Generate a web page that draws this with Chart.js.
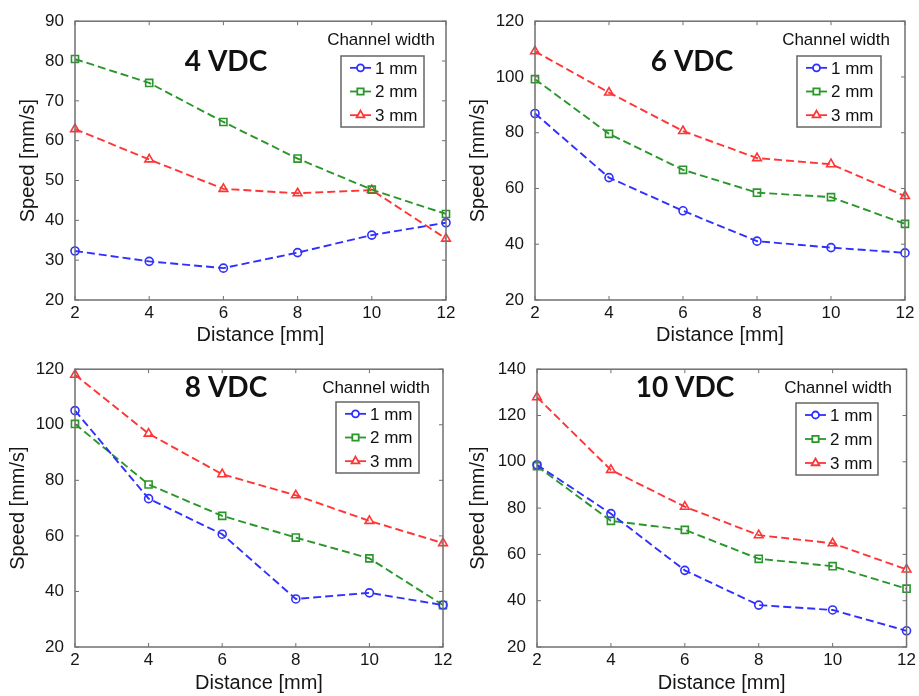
<!DOCTYPE html>
<html>
<head>
<meta charset="utf-8">
<script src="https://cdn.jsdelivr.net/npm/chart.js@4.4.1/dist/chart.umd.min.js"></script>
<style>
  html, body { margin: 0; padding: 0; background: #fff; }
  #page { position: relative; width: 919px; height: 696px; overflow: hidden; }
  .panel { position: absolute; }
</style>
</head>
<body>
<div id="page"></div>
<script>
// distance from electrode, mm
const distances = [2, 4, 6, 8, 10, 12];
const widthLabels = ['1 mm', '2 mm', '3 mm'];
const voltageTitles = ['4 VDC', '6 VDC', '8 VDC', '10 VDC'];

// speed [mm/s] per channel width, one set per voltage
const speed4V_1mm = [32.3, 29.7, 28.0, 31.9, 36.3, 39.4];
const speed4V_2mm = [80.5, 74.5, 64.7, 55.5, 47.7, 41.6];
const speed4V_3mm = [62.9, 55.3, 47.9, 46.8, 47.6, 35.4];

const speed6V_1mm = [86.9, 63.9, 52.0, 41.1, 38.8, 36.9];
const speed6V_2mm = [99.2, 79.6, 66.7, 58.5, 56.9, 47.3];
const speed6V_3mm = [109.2, 94.4, 80.6, 70.9, 68.7, 57.3];

const speed8V_1mm = [105.1, 73.4, 60.6, 37.3, 39.5, 35.1];
const speed8V_2mm = [100.3, 78.5, 67.2, 59.4, 51.9, 35.1];
const speed8V_3mm = [118.0, 96.8, 82.2, 74.6, 65.4, 57.4];

const speed10V_1mm = [98.7, 77.6, 53.1, 38.1, 36.0, 27.0];
const speed10V_2mm = [98.1, 74.5, 70.6, 58.1, 54.9, 45.2];
const speed10V_3mm = [127.9, 96.5, 80.6, 68.3, 64.8, 53.5];

// y axis range and step per voltage
const yAxis4V = [20, 90, 10];
const yAxis6V = [20, 120, 20];
const yAxis8V = [20, 120, 20];
const yAxis10V = [20, 140, 20];

const seriesColors = ['#2f2fff', '#2a962a', '#ff3535'];
const seriesPoints = ['circle', 'rect', 'triangle'];
const seriesRadius = [4, 5, 5];

const FONT = '"Liberation Sans", Arial, Helvetica, sans-serif';
const TITLE_FONT = 'Lato, "Liberation Sans", sans-serif';
const INK = '#161616';

// frame, inward tick marks, title and legend box (matlab-ish look)
const panelDecor = {
  id: 'panelDecor',
  afterDraw(chart, args, opts) {
    const ctx = chart.ctx;
    const a = chart.chartArea;
    const xs = chart.scales.x, ys = chart.scales.y;
    ctx.save();
    ctx.strokeStyle = '#707070';
    ctx.lineWidth = 1.5;
    ctx.setLineDash([]);
    ctx.strokeRect(a.left, a.top, a.right - a.left, a.bottom - a.top);

    ctx.lineWidth = 1;
    ctx.beginPath();
    xs.ticks.forEach(t => {
      const px = xs.getPixelForValue(t.value);
      ctx.moveTo(px, a.bottom); ctx.lineTo(px, a.bottom - 4);
      ctx.moveTo(px, a.top); ctx.lineTo(px, a.top + 4);
    });
    ys.ticks.forEach(t => {
      const py = ys.getPixelForValue(t.value);
      ctx.moveTo(a.left, py); ctx.lineTo(a.left + 4, py);
      ctx.moveTo(a.right, py); ctx.lineTo(a.right - 4, py);
    });
    ctx.stroke();

    // voltage title
    ctx.fillStyle = '#111';
    ctx.textAlign = 'center';
    ctx.textBaseline = 'alphabetic';
    ctx.font = 'bold 28px ' + TITLE_FONT;
    ctx.fillText(opts.title, opts.titleX, opts.titleY);

    ctx.font = '17px ' + FONT;
    ctx.fillText('Channel width', opts.headX, opts.headY);

    // legend box
    const [bx1, by1, bx2, by2] = opts.box;
    ctx.fillStyle = '#fff';
    ctx.fillRect(bx1, by1, bx2 - bx1, by2 - by1);
    ctx.strokeStyle = '#666';
    ctx.lineWidth = 1.5;
    ctx.strokeRect(bx1, by1, bx2 - bx1, by2 - by1);

    const rowGap = (by2 - by1) / 3;
    chart.data.datasets.forEach((ds, i) => {
      const cy = by1 + rowGap * (i + 0.5);
      ctx.strokeStyle = ds.borderColor;
      ctx.lineWidth = 1.8;
      ctx.beginPath();
      ctx.moveTo(bx1 + 9, cy); ctx.lineTo(bx1 + 30, cy);
      ctx.stroke();
      // hollow marker: white inside so the line is hidden behind it
      ctx.fillStyle = '#fff';
      Chart.helpers.drawPoint(ctx, {
        pointStyle: ds.pointStyle, radius: ds.pointRadius - 0.5,
        borderWidth: 1.5, rotation: 0
      }, bx1 + 19.5, cy);
      ctx.fillStyle = '#111';
      ctx.textAlign = 'left';
      ctx.textBaseline = 'middle';
      ctx.font = '17px ' + FONT;
      ctx.fillText(ds.label, bx1 + 34, cy + 1);
    });
    ctx.restore();
  }
};

function makePanel(cfg) {
  const wrap = document.createElement('div');
  wrap.className = 'panel';
  wrap.style.left = cfg.left + 'px';
  wrap.style.top = cfg.top + 'px';
  const canvas = document.createElement('canvas');
  canvas.width = cfg.w;
  canvas.height = cfg.h;
  wrap.append(canvas);
  document.getElementById('page').append(wrap);

  const datasets = cfg.series.map((vals, i) => ({
    label: widthLabels[i],
    data: vals.map((v, k) => ({ x: distances[k], y: v })),
    borderColor: seriesColors[i],
    backgroundColor: 'rgba(0,0,0,0)',
    borderWidth: 1.9,
    borderDash: [8, 4],
    pointStyle: seriesPoints[i],
    pointRadius: seriesRadius[i],
    pointBorderWidth: 1.6,
    pointBackgroundColor: 'rgba(0,0,0,0)',
    pointBorderColor: seriesColors[i],
    tension: 0,
    clip: false
  }));

  new Chart(canvas, {
    type: 'line',
    data: { datasets },
    options: {
      responsive: false,
      animation: false,
      devicePixelRatio: 1,
      layout: { padding: { left: 0, top: cfg.plot.t, right: cfg.w - cfg.plot.r, bottom: 0 } },
      plugins: {
        legend: { display: false },
        tooltip: { enabled: false },
        panelDecor: cfg.decor
      },
      scales: {
        x: {
          type: 'linear', min: 2, max: 12,
          ticks: { stepSize: 2, color: INK, font: { family: FONT, size: 17 }, padding: 3, maxRotation: 0 },
          grid: { display: false, drawTicks: false },
          border: { display: false },
          title: { display: true, text: 'Distance [mm]', color: INK,
                   font: { family: FONT, size: 20 }, padding: { top: 0, bottom: 1 } },
          afterFit: s => { s.height = cfg.h - cfg.plot.b; }
        },
        y: {
          min: cfg.yAxis[0], max: cfg.yAxis[1],
          ticks: { stepSize: cfg.yAxis[2], color: INK, font: { family: FONT, size: 17 }, padding: 11 },
          grid: { display: false, drawTicks: false },
          border: { display: false },
          title: { display: true, text: 'Speed [mm/s]', color: INK,
                   font: { family: FONT, size: 20 }, padding: { top: cfg.yTitleX - 12, bottom: 0 } },
          afterFit: s => { s.width = cfg.plot.l; }
        }
      }
    },
    plugins: [panelDecor]
  });
}

makePanel({
  left: 0, top: 0, w: 460, h: 348,
  plot: { l: 75, t: 19, r: 446, b: 300 }, yTitleX: 28,
  yAxis: yAxis4V, series: [speed4V_1mm, speed4V_2mm, speed4V_3mm],
  decor: { title: voltageTitles[0], titleX: 226, titleY: 71, headX: 381, headY: 45, box: [341, 56, 424, 127] }
});
makePanel({
  left: 460, top: 0, w: 459, h: 348,
  plot: { l: 75, t: 19, r: 445, b: 300 }, yTitleX: 18,
  yAxis: yAxis6V, series: [speed6V_1mm, speed6V_2mm, speed6V_3mm],
  decor: { title: voltageTitles[1], titleX: 232, titleY: 71, headX: 376, headY: 45, box: [337, 56, 421, 127] }
});
makePanel({
  left: 0, top: 348, w: 460, h: 348,
  plot: { l: 75, t: 19, r: 443, b: 299 }, yTitleX: 18,
  yAxis: yAxis8V, series: [speed8V_1mm, speed8V_2mm, speed8V_3mm],
  decor: { title: voltageTitles[2], titleX: 226, titleY: 49, headX: 376, headY: 45, box: [336, 54, 419, 125] }
});
makePanel({
  left: 460, top: 348, w: 459, h: 348,
  plot: { l: 77, t: 19, r: 447, b: 299 }, yTitleX: 18,
  yAxis: yAxis10V, series: [speed10V_1mm, speed10V_2mm, speed10V_3mm],
  decor: { title: voltageTitles[3], titleX: 225, titleY: 49, headX: 378, headY: 45, box: [336, 55, 418, 127] }
});
</script>
</body>
</html>
